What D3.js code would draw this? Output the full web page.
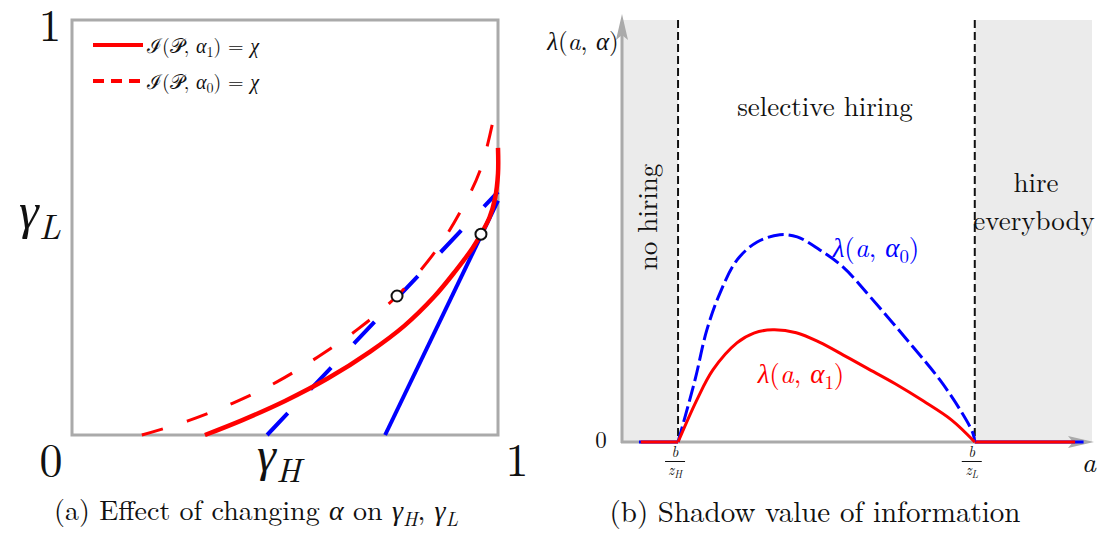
<!DOCTYPE html>
<html>
<head>
<meta charset="utf-8">
<script src="https://cdn.jsdelivr.net/npm/d3@7"></script>
<style>
  body { margin: 0; background: #fff; }
</style>
</head>
<body>
<svg id="chart" width="1103" height="533"></svg>
<script>
// ---- panel (a): iso-information curves in (gammaH, gammaL) space
var solidH = [0.312, 0.40, 0.50, 0.60, 0.70, 0.78, 0.85, 0.90, 0.94, 0.96, 0.98, 0.993, 1.0, 1.0];
var solidL = [0.0, 0.036, 0.082, 0.136, 0.201, 0.263, 0.333, 0.395, 0.450, 0.484, 0.524, 0.570, 0.630, 0.692];
var dashH = [0.164, 0.272, 0.378, 0.481, 0.577, 0.671, 0.763, 0.852, 0.911, 0.960, 0.995];
var dashL = [0.0, 0.034, 0.077, 0.128, 0.188, 0.255, 0.335, 0.441, 0.537, 0.643, 0.790];
var tangentDashH = [0.458, 1.0], tangentDashL = [0.0, 0.586];
var tangentSolidH = [0.735, 1.0], tangentSolidL = [0.0, 0.565];
var pointH = [0.763, 0.960], pointL = [0.335, 0.484];
var cornerTicks = ["0", "1"];

// ---- panel (b): shadow value of information
var lam0A = [0.119, 0.155, 0.180, 0.208, 0.244, 0.287, 0.335, 0.372, 0.420, 0.469, 0.527, 0.618, 0.675, 0.718, 0.745, 0.749];
var lam0V = [0.0, 0.147, 0.265, 0.353, 0.431, 0.474, 0.491, 0.486, 0.455, 0.415, 0.344, 0.225, 0.147, 0.076, 0.021, 0.0];
var lam1A = [0.119, 0.159, 0.193, 0.244, 0.28, 0.32, 0.37, 0.42, 0.47, 0.52, 0.58, 0.64, 0.70, 0.749];
var lam1V = [0.0, 0.100, 0.171, 0.235, 0.258, 0.266, 0.259, 0.236, 0.206, 0.175, 0.138, 0.097, 0.052, 0.0];
var flat0 = [[0.036, 0.119], [0.749, 0.980]];
var flat1 = [[0.040, 0.119], [0.749, 0.962]];
var cutoffs = [0.119, 0.749];
var cutoffSubs = ["H", "L"];

var ROMAN = "'Latin Modern Roman'";
var GREEK = "'Liberation Serif'";
var svg = d3.select("#chart");

function plainText(sel, x, y, str, size, anchor) {
  return sel.append("text")
    .attr("x", x).attr("y", y)
    .attr("text-anchor", anchor || "middle")
    .style("font-family", ROMAN)
    .style("font-size", size + "px")
    .style("fill", "#111")
    .text(str);
}

// math-ish labels: parts = [text, flags]  i = italic, g = greek italic, s = subscript
function mathText(sel, x, y, parts, size, anchor, color) {
  var t = sel.append("text")
    .attr("x", x).attr("y", y)
    .attr("text-anchor", anchor || "start")
    .style("font-family", ROMAN)
    .style("font-size", size + "px")
    .style("fill", color || "#111");
  var shift = 0;
  parts.forEach(function (p) {
    var f = p[1] || "";
    var s = t.append("tspan").text(p[0]);
    if (f.indexOf("i") >= 0) s.style("font-style", "italic");
    if (f.indexOf("g") >= 0) s.style("font-family", GREEK).style("font-style", "italic");
    var want = f.indexOf("s") >= 0 ? size * 0.22 : 0;
    if (want !== shift) { s.attr("dy", want - shift); shift = want; }
    if (f.indexOf("s") >= 0) s.style("font-size", (size * 0.7) + "px");
  });
  return t;
}

function zip(a, b) { return a.map(function (v, i) { return [v, b[i]]; }); }

// ================= panel (a)
var xA = d3.scaleLinear().domain([0, 1]).range([72, 498]);
var yA = d3.scaleLinear().domain([0, 1]).range([435, 20]);
var lineA = d3.line().x(function (d) { return xA(d[0]); }).y(function (d) { return yA(d[1]); });
var curveA = d3.line().curve(d3.curveCatmullRom.alpha(0.5))
  .x(function (d) { return xA(d[0]); }).y(function (d) { return yA(d[1]); });

var ga = svg.append("g");

ga.append("rect")
  .attr("x", xA(0)).attr("y", yA(1))
  .attr("width", xA(1) - xA(0)).attr("height", yA(0) - yA(1))
  .attr("fill", "none").attr("stroke", "#aaaaaa").attr("stroke-width", 3);

ga.append("path").datum(zip(tangentDashH, tangentDashL))
  .attr("d", lineA).attr("fill", "none")
  .attr("stroke", "#0000ff").attr("stroke-width", 4)
  .attr("stroke-dasharray", "30,33");

ga.append("path").datum(zip(tangentSolidH, tangentSolidL))
  .attr("d", lineA).attr("fill", "none")
  .attr("stroke", "#0000ff").attr("stroke-width", 4);

ga.append("path").datum(zip(dashH, dashL))
  .attr("d", curveA).attr("fill", "none")
  .attr("stroke", "#ff0000").attr("stroke-width", 3)
  .attr("stroke-dasharray", "22,25");

ga.append("path").datum(zip(solidH, solidL))
  .attr("d", curveA).attr("fill", "none")
  .attr("stroke", "#ff0000").attr("stroke-width", 4.5);

ga.selectAll("circle.pt").data(zip(pointH, pointL)).enter()
  .append("circle").attr("class", "pt")
  .attr("cx", function (d) { return xA(d[0]); })
  .attr("cy", function (d) { return yA(d[1]); })
  .attr("r", 5.5)
  .attr("fill", "#fff").attr("stroke", "#111").attr("stroke-width", 2);

// legend
ga.append("line").attr("x1", 93).attr("x2", 143).attr("y1", 45).attr("y2", 45)
  .attr("stroke", "#ff0000").attr("stroke-width", 4);
ga.append("line").attr("x1", 93).attr("x2", 141).attr("y1", 81).attr("y2", 81)
  .attr("stroke", "#ff0000").attr("stroke-width", 4).attr("stroke-dasharray", "11,7");
mathText(ga, 147, 53, [["ℐ("], ["𝒫"], [", "], ["α", "g"], ["1", "s"], [") = "], ["χ", "g"]], 20);
mathText(ga, 147, 89, [["ℐ("], ["𝒫"], [", "], ["α", "g"], ["0", "s"], [") = "], ["χ", "g"]], 20);

// corner ticks and axis names
plainText(ga, 50, 41, cornerTicks[1], 45);
plainText(ga, 51, 476, cornerTicks[0], 46);
plainText(ga, 517, 476, cornerTicks[1], 46);
mathText(ga, 19, 228, [["γ", "g"], ["L", "is"]], 50);
mathText(ga, 257, 471, [["γ", "g"], ["H", "is"]], 48);

mathText(ga, 256, 520, [["(a) Effect of changing "], ["α", "g"], [" on "], ["γ", "g"], ["H", "is"], [", "], ["γ", "g"], ["L", "is"]], 28, "middle");

// ================= panel (b)
var xB = d3.scaleLinear().domain([0, 1]).range([622, 1093]);
var yB = d3.scaleLinear().domain([0, 1]).range([442, 20]);
var lineB = d3.line().x(function (d) { return xB(d[0]); }).y(function (d) { return yB(d[1]); });
var curveB = d3.line().curve(d3.curveCatmullRom.alpha(0.5))
  .x(function (d) { return xB(d[0]); }).y(function (d) { return yB(d[1]); });

var gb = svg.append("g");

// shaded regions
gb.append("rect").attr("x", xB(0)).attr("y", yB(1))
  .attr("width", xB(cutoffs[0]) - xB(0)).attr("height", yB(0) - yB(1))
  .attr("fill", "#ebebeb");
gb.append("rect").attr("x", xB(cutoffs[1])).attr("y", yB(1))
  .attr("width", xB(1) - 1 - xB(cutoffs[1])).attr("height", yB(0) - yB(1))
  .attr("fill", "#ebebeb");

// cutoff lines
gb.selectAll("line.cut").data(cutoffs).enter().append("line").attr("class", "cut")
  .attr("x1", function (d) { return xB(d); }).attr("x2", function (d) { return xB(d); })
  .attr("y1", yB(1)).attr("y2", yB(0))
  .attr("stroke", "#111").attr("stroke-width", 2).attr("stroke-dasharray", "8,4");

// axes with arrowheads
gb.append("line").attr("x1", xB(0)).attr("x2", xB(0)).attr("y1", yB(0) + 1).attr("y2", 30)
  .attr("stroke", "#aaaaaa").attr("stroke-width", 3);
gb.append("path")
  .attr("d", "M" + xB(0) + ",14 L" + (xB(0) - 6) + ",40 L" + xB(0) + ",35 L" + (xB(0) + 6) + ",40 Z")
  .attr("fill", "#aaaaaa");
gb.append("line").attr("x1", xB(0) - 1).attr("x2", 1080).attr("y1", yB(0)).attr("y2", yB(0))
  .attr("stroke", "#aaaaaa").attr("stroke-width", 3);
gb.append("path")
  .attr("d", "M1094," + yB(0) + " L1068," + (yB(0) - 6) + " L1073," + yB(0) + " L1068," + (yB(0) + 6) + " Z")
  .attr("fill", "#aaaaaa");

// flat parts (blue under red)
gb.selectAll("path.flat0").data(flat0).enter().append("path").attr("class", "flat0")
  .attr("d", function (d) { return lineB([[d[0], 0], [d[1], 0]]); })
  .attr("stroke", "#0000ff").attr("stroke-width", 3);
gb.selectAll("path.flat1").data(flat1).enter().append("path").attr("class", "flat1")
  .attr("d", function (d) { return lineB([[d[0], 0], [d[1], 0]]); })
  .attr("stroke", "#ff0000").attr("stroke-width", 3);

// lambda curves
gb.append("path").datum(zip(lam0A, lam0V))
  .attr("d", curveB).attr("fill", "none")
  .attr("stroke", "#0000ff").attr("stroke-width", 3)
  .attr("stroke-dasharray", "16,5");
gb.append("path").datum(zip(lam1A, lam1V))
  .attr("d", curveB).attr("fill", "none")
  .attr("stroke", "#ff0000").attr("stroke-width", 3);

// tick labels b / z
cutoffs.forEach(function (c, i) {
  var cx = xB(c) - 3;
  mathText(gb, cx, 457, [["b", "i"]], 15, "middle");
  gb.append("line").attr("x1", cx - 10).attr("x2", cx + 10).attr("y1", 461.5).attr("y2", 461.5)
    .attr("stroke", "#111").attr("stroke-width", 1);
  mathText(gb, cx, 475, [["z", "i"], [cutoffSubs[i], "is"]], 15, "middle");
});
plainText(gb, 601, 448, "0", 23);
mathText(gb, 1089, 472, [["a", "i"]], 28, "middle");
mathText(gb, 583, 50, [["λ", "g"], ["("], ["a", "i"], [", "], ["α", "g"], [")"]], 25, "middle");

// region labels
plainText(gb, 825, 116, "selective hiring", 27);
plainText(gb, 0, 0, "no hiring", 27).attr("transform", "translate(657,217) rotate(-90)");
plainText(gb, 1036, 192, "hire", 27);
plainText(gb, 1034, 230, "everybody", 27);

mathText(gb, 876, 257, [["λ", "g"], ["("], ["a", "i"], [", "], ["α", "g"], ["0", "s"], [")"]], 27, "middle", "#0000ff");
mathText(gb, 801, 383, [["λ", "g"], ["("], ["a", "i"], [", "], ["α", "g"], ["1", "s"], [")"]], 27, "middle", "#ff0000");

plainText(gb, 815, 522, "(b) Shadow value of information", 29);
</script>
</body>
</html>
